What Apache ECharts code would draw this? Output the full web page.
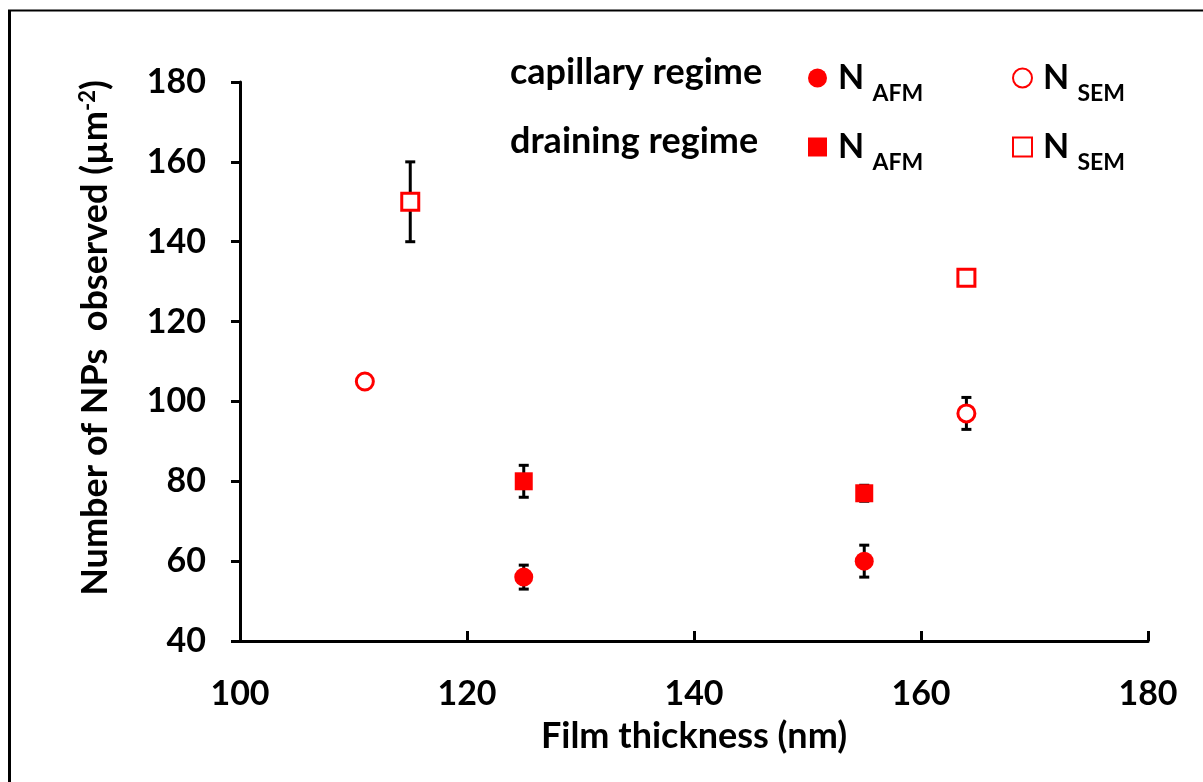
<!DOCTYPE html>
<html>
<head>
<meta charset="utf-8">
<script src="https://cdn.jsdelivr.net/npm/echarts@6/dist/echarts.min.js"></script>
<style>
html,body{margin:0;padding:0;background:#fff;}
#chart{width:1203px;height:782px;}
</style>
</head>
<body>
<div id="chart"></div>
<script>
// ---- data ----
const xTicks = [100, 120, 140, 160, 180];
const yTicks = [40, 60, 80, 100, 120, 140, 160, 180];

const capAfmX = [125, 155];
const capAfmY = [56, 60];
const capAfmErr = [3, 4];

const capSemX = [111, 164];
const capSemY = [105, 97];
const capSemErr = [0, 4];

const drAfmX = [125, 155];
const drAfmY = [80, 77];
const drAfmErr = [4, 2];

const drSemX = [115, 164];
const drSemY = [150, 131];
const drSemErr = [10, 0];

const xTitle = 'Film thickness (nm)';
const rowLabels = ['capillary regime', 'draining regime'];

// ---- build ----
const FONT = 'Lato';
const RED = '#ff0000';

function pts(xs, ys) { return xs.map((x, i) => [x, ys[i]]); }
function errPts(xs, ys, es) { return xs.map((x, i) => [x, ys[i], es[i]]); }

const allErr = [].concat(
  errPts(capAfmX, capAfmY, capAfmErr),
  errPts(capSemX, capSemY, capSemErr),
  errPts(drAfmX, drAfmY, drAfmErr),
  errPts(drSemX, drSemY, drSemErr)
).filter(d => d[2] > 0);

function renderErr(params, api) {
  const x = api.value(0), y = api.value(1), e = api.value(2);
  const top = api.coord([x, y + e]);
  const bot = api.coord([x, y - e]);
  const hw = 5;
  const st = { stroke: '#000', lineWidth: 3 };
  return {
    type: 'group',
    children: [
      { type: 'line', shape: { x1: top[0], y1: top[1], x2: bot[0], y2: bot[1] }, style: st },
      { type: 'line', shape: { x1: top[0] - hw, y1: top[1], x2: top[0] + hw, y2: top[1] }, style: st },
      { type: 'line', shape: { x1: bot[0] - hw, y1: bot[1], x2: bot[0] + hw, y2: bot[1] }, style: st }
    ]
  };
}

const legendRich = {
  n: { fontFamily: FONT, fontWeight: 'bold', fontSize: 34, color: '#000', lineHeight: 34, verticalAlign: 'bottom' },
  s: { fontFamily: FONT, fontWeight: 'bold', fontSize: 23, color: '#000', lineHeight: 34, verticalAlign: 'bottom', padding: [0, 0, -10, 0] }
};
function legendFmt(name) {
  return '{n|N }{s|' + (name.indexOf('AFM') >= 0 ? 'AFM' : 'SEM') + '}';
}
function mkLegend(name, left, top) {
  return {
    data: [name], left: left, top: top, itemWidth: 19, itemHeight: 19, itemGap: 0,
    formatter: legendFmt, textStyle: { rich: legendRich, padding: [0, 0, 0, 6] },
    selectedMode: false
  };
}

const chart = echarts.init(document.getElementById('chart'));
const axisFontStyle = { fontFamily: FONT, fontWeight: 'bold', fontSize: 34, color: '#000' };

chart.setOption({
  animation: false,
  backgroundColor: '#fff',
  grid: { left: 240, right: 55, top: 82, bottom: 141, containLabel: false },
  xAxis: {
    type: 'value', min: xTicks[0], max: xTicks[xTicks.length - 1], interval: 20,
    axisLine: { onZero: false, lineStyle: { color: '#000', width: 3 } },
    axisTick: { inside: true, length: 10, lineStyle: { color: '#000', width: 3 } },
    axisLabel: Object.assign({ margin: 36 }, axisFontStyle),
    splitLine: { show: false },
    name: xTitle, nameLocation: 'middle', nameGap: 77,
    nameTextStyle: { fontFamily: FONT, fontWeight: 'bold', fontSize: 36, color: '#000' }
  },
  yAxis: {
    type: 'value', min: yTicks[0], max: yTicks[yTicks.length - 1], interval: 20,
    axisLine: { onZero: false, lineStyle: { color: '#000', width: 3 } },
    axisTick: { inside: false, length: 9, lineStyle: { color: '#000', width: 3 } },
    axisLabel: Object.assign({ margin: 34 }, axisFontStyle),
    splitLine: { show: false }
  },
  legend: [
    mkLegend('capillary N AFM', 803, 56),
    mkLegend('capillary N SEM', 1007, 56),
    mkLegend('draining N AFM', 803, 125),
    mkLegend('draining N SEM', 1007, 125)
  ],
  graphic: [
    { type: 'line', shape: { x1: 8, y1: 10.5, x2: 1203, y2: 10.5 }, style: { stroke: '#000', lineWidth: 2 }, silent: true },
    { type: 'line', shape: { x1: 9.5, y1: 10, x2: 9.5, y2: 782 }, style: { stroke: '#000', lineWidth: 3 }, silent: true },
    { type: 'text', x: 510, y: 72, style: { text: rowLabels[0], fontFamily: FONT, fontWeight: 'bold', fontSize: 36, fill: '#000', verticalAlign: 'middle' } },
    { type: 'text', x: 510, y: 141, style: { text: rowLabels[1], fontFamily: FONT, fontWeight: 'bold', fontSize: 36, fill: '#000', verticalAlign: 'middle' } },
    {
      type: 'text', x: 95, y: 338, rotation: Math.PI / 2,
      style: {
        text: 'Number of NPs  observed (µm{sup|-2})',
        fontFamily: FONT, fontWeight: 'bold', fontSize: 36, fill: '#000',
        align: 'center', verticalAlign: 'middle',
        rich: { sup: { fontFamily: FONT, fontWeight: 'bold', fontSize: 22, fill: '#000', padding: [0, 0, 14, 0] } }
      }
    }
  ],
  series: [
    { type: 'custom', name: 'err', renderItem: renderErr, data: allErr, z: 1, silent: true, encode: { x: 0, y: 1 } },
    { type: 'scatter', name: 'capillary N AFM', data: pts(capAfmX, capAfmY), symbol: 'circle', symbolSize: 19,
      itemStyle: { color: RED, opacity: 1 }, z: 3 },
    { type: 'scatter', name: 'capillary N SEM', data: pts(capSemX, capSemY), symbol: 'circle', symbolSize: 17,
      itemStyle: { color: '#fff', borderColor: RED, borderWidth: 3, opacity: 1 }, z: 3 },
    { type: 'scatter', name: 'draining N AFM', data: pts(drAfmX, drAfmY), symbol: 'rect', symbolSize: 18,
      itemStyle: { color: RED, opacity: 1 }, z: 3 },
    { type: 'scatter', name: 'draining N SEM', data: pts(drSemX, drSemY), symbol: 'rect', symbolSize: 17,
      itemStyle: { color: '#fff', borderColor: RED, borderWidth: 3, opacity: 1 }, z: 3 }
  ]
});
</script>
</body>
</html>
